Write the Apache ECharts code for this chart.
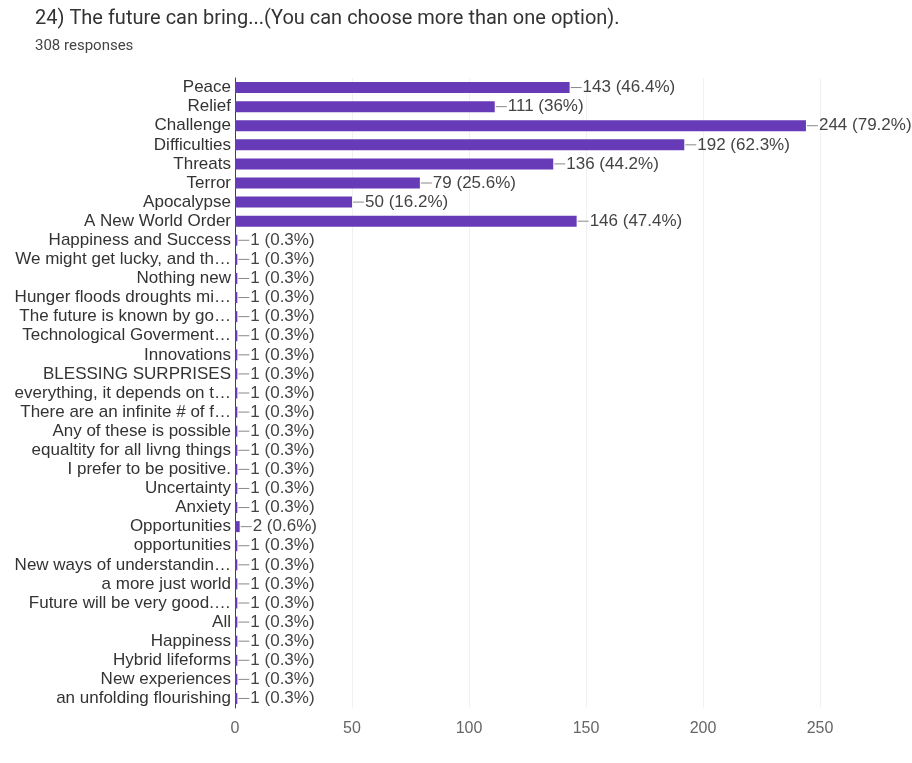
<!DOCTYPE html>
<html>
<head>
<meta charset="utf-8">
<script src="https://cdn.jsdelivr.net/npm/echarts@6/dist/echarts.min.js"></script>
<style>
  html, body { margin: 0; padding: 0; background: #fff; }
  #chart { width: 912px; height: 763px; }
</style>
</head>
<body>
<div id="chart"></div>
<script>
// answers, top to bottom as in the form
const categories = [
  'Peace', 'Relief', 'Challenge', 'Difficulties', 'Threats', 'Terror', 'Apocalypse',
  'A New World Order', 'Happiness and Success', 'We might get lucky, and th…',
  'Nothing new', 'Hunger floods droughts mi…', 'The future is known by go…',
  'Technological Goverment…', 'Innovations', 'BLESSING SURPRISES',
  'everything, it depends on t…', 'There are an infinite # of f…',
  'Any of these is possible', 'equaltity for all livng things',
  'I prefer to be positive.', 'Uncertainty', 'Anxiety', 'Opportunities',
  'opportunities', 'New ways of understandin…', 'a more just world',
  'Future will be very good.…', 'All', 'Happiness', 'Hybrid lifeforms',
  'New experiences', 'an unfolding flourishing'
]
const counts = [
  143, 111, 244, 192, 136, 79, 50, 146,
  1, 1, 1, 1, 1, 1, 1, 1, 1, 1, 1, 1, 1, 1, 1, 2, 1, 1, 1, 1, 1, 1, 1, 1, 1
]
const totalResponses = 308
const xTicks = [0, 50, 100, 150, 200, 250]

const font = 'Arial, "Liberation Sans", sans-serif'

const chart = echarts.init(document.getElementById('chart'))

const pct = v => Math.round(v / totalResponses * 1000) / 10

chart.setOption({
  animation: false,
  title: {
    text: '24) The future can bring...(You can choose more than one option).',
    subtext: totalResponses + ' responses',
    left: 30,
    top: 4,
    itemGap: 10,
    textStyle: { fontFamily: 'Roboto, Arial, sans-serif', fontSize: 20, fontWeight: 'normal', color: '#333' },
    subtextStyle: { fontFamily: 'Roboto, Arial, sans-serif', fontSize: 15, color: '#444' }
  },
  grid: { left: 235, right: 92, top: 78, bottom: 55, containLabel: false },
  xAxis: {
    type: 'value',
    min: xTicks[0],
    max: xTicks[xTicks.length - 1],
    interval: 50,
    axisLine: { show: false },
    axisTick: { show: false },
    splitLine: { lineStyle: { color: '#f1f1f1' } },
    axisLabel: { fontFamily: font, fontSize: 16, color: '#666', margin: 13 }
  },
  yAxis: {
    type: 'category',
    data: categories,
    inverse: true,
    axisLine: { lineStyle: { color: '#444', width: 1 } },
    axisTick: { show: false },
    axisLabel: { interval: 0, fontFamily: font, fontSize: 17, color: '#333', margin: 4 }
  },
  series: [
    {
      type: 'bar',
      data: counts,
      barWidth: 11,
      itemStyle: { color: '#673ab7' },
      label: {
        show: true,
        position: 'right',
        distance: 1,
        formatter: p => '{l|}{t|' + p.value + ' (' + pct(p.value) + '%)}',
        rich: {
          l: { width: 11, height: 1, backgroundColor: '#888' },
          t: { fontFamily: font, fontSize: 17, color: '#444', padding: [0, 0, 0, 1] }
        }
      }
    }
  ]
})
</script>
</body>
</html>
